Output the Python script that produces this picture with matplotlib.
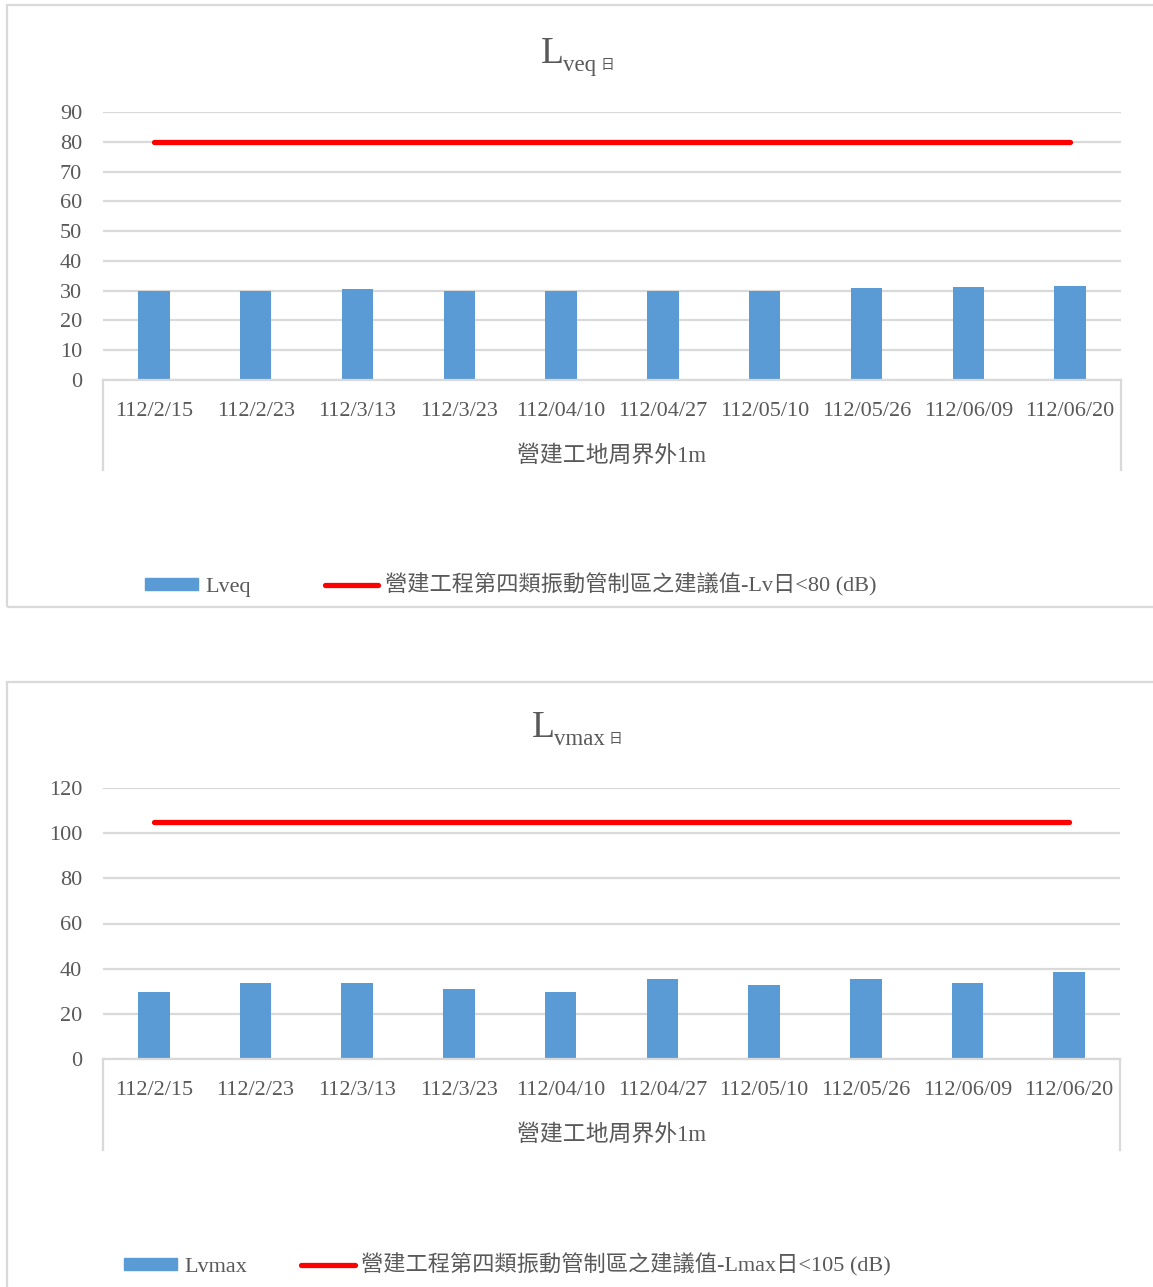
import matplotlib
matplotlib.use("Agg")
import matplotlib.pyplot as plt
from matplotlib.patches import Rectangle, Patch
from matplotlib.lines import Line2D

plt.rcParams['font.family'] = ['Liberation Serif', 'Noto Sans CJK TC']

# data
dates = ['112/2/15', '112/2/23', '112/3/13', '112/3/23', '112/04/10',
         '112/04/27', '112/05/10', '112/05/26', '112/06/09', '112/06/20']
lveq = [30.0, 30.0, 30.4, 30.0, 30.0, 30.0, 30.0, 30.9, 31.2, 31.7]
lvmax = [29.5, 33.5, 33.5, 31.1, 29.5, 35.3, 32.9, 35.3, 33.5, 38.5]
lveq_limit = 80
lvmax_limit = 105
group_label = '營建工地周界外1m'
lveq_limit_label = '營建工程第四類振動管制區之建議值-Lv日<80 (dB)'
lvmax_limit_label = '營建工程第四類振動管制區之建議值-Lmax日<105 (dB)'

W, H = 1153, 1287
TXT = '#595959'
GRID = '#d9d9d9'
BLUE = '#5b9bd5'
FS = 16

fig = plt.figure(figsize=(W / 100, H / 100), dpi=100)


def fx(px):
    return px / W


def fy(py):
    return 1 - py / H


def draw_chart(rect, values, limit, ymax, ystep, title_sub, title_x, title_y,
               name, limit_label, leg_x, leg_y, colspace):
    ax = fig.add_axes(rect)
    x = range(len(dates))
    ax.bar(x, values, width=0.31, color=BLUE, zorder=2)
    ax.plot(x, [limit] * len(dates), color='#ff0000', lw=3.8,
            solid_capstyle='round', zorder=3)
    ax.set_xlim(-0.5, len(dates) - 0.5)
    ax.set_ylim(0, ymax)
    ax.set_yticks(range(0, ymax + 1, ystep))
    ax.set_xticks(list(x))
    ax.set_xticklabels(dates)
    ax.set_axisbelow(True)
    ax.grid(axis='y', color=GRID, lw=1.6)
    for s in ['top', 'left', 'right']:
        ax.spines[s].set_visible(False)
    ax.spines['bottom'].set_color(GRID)
    ax.spines['bottom'].set_linewidth(1.6)
    ax.tick_params(axis='y', length=0, pad=15, labelsize=FS, labelcolor=TXT)
    ax.tick_params(axis='x', length=0, pad=16, labelsize=FS, labelcolor=TXT)

    # multi-level category axis
    for xa in (0, 1):
        ax.plot([xa, xa], [0, -0.336], transform=ax.transAxes, color=GRID,
                lw=1.6, clip_on=False)
    ax.text(0.5, -0.282, group_label, transform=ax.transAxes, ha='center',
            va='center', fontsize=16.5, color=TXT)

    # title: L with subscript and 日
    fig.text(fx(title_x), fy(title_y), 'L', fontsize=27, color=TXT,
             va='baseline', ha='left')
    sub = fig.text(fx(title_x + 22), fy(title_y + 8), title_sub, fontsize=16.5,
                   color=TXT, va='baseline', ha='left')
    ax.annotate('日', xy=(1, 0), xycoords=sub, xytext=(4, 4),
                textcoords='offset pixels', fontsize=10, color=TXT,
                va='bottom', ha='left', annotation_clip=False)

    handles = [Patch(color=BLUE), Line2D([], [], color='#ff0000', lw=3.8,
                                         solid_capstyle='round')]
    fig.legend(handles, [name, limit_label], loc='center left',
               bbox_to_anchor=(leg_x, leg_y), ncol=2, frameon=False,
               fontsize=FS, labelcolor=TXT, handlelength=2.4,
               handleheight=0.45, handletextpad=0.3, columnspacing=colspace,
               borderaxespad=0)
    return ax


# panel borders
fig.add_artist(Rectangle((fx(7), fy(607)), fx(1160 - 7), fy(5) - fy(607),
                         transform=fig.transFigure, fill=False,
                         edgecolor=GRID, lw=1.6))
fig.add_artist(Rectangle((fx(7), fy(1295)), fx(1160 - 7), fy(682) - fy(1295),
                         transform=fig.transFigure, fill=False,
                         edgecolor=GRID, lw=1.6))

draw_chart([fx(103), fy(380), fx(1121 - 103), fy(112) - fy(380)],
           lveq, lveq_limit, 90, 10, 'veq', 541, 63,
           'Lveq', lveq_limit_label, fx(136), fy(585), 3.35)
draw_chart([fx(103), fy(1059), fx(1120 - 103), fy(788) - fy(1059)],
           lvmax, lvmax_limit, 120, 20, 'vmax', 532, 737,
           'Lvmax', lvmax_limit_label, fx(115), fy(1265), 2.45)

fig.savefig('out.png', dpi=100)
